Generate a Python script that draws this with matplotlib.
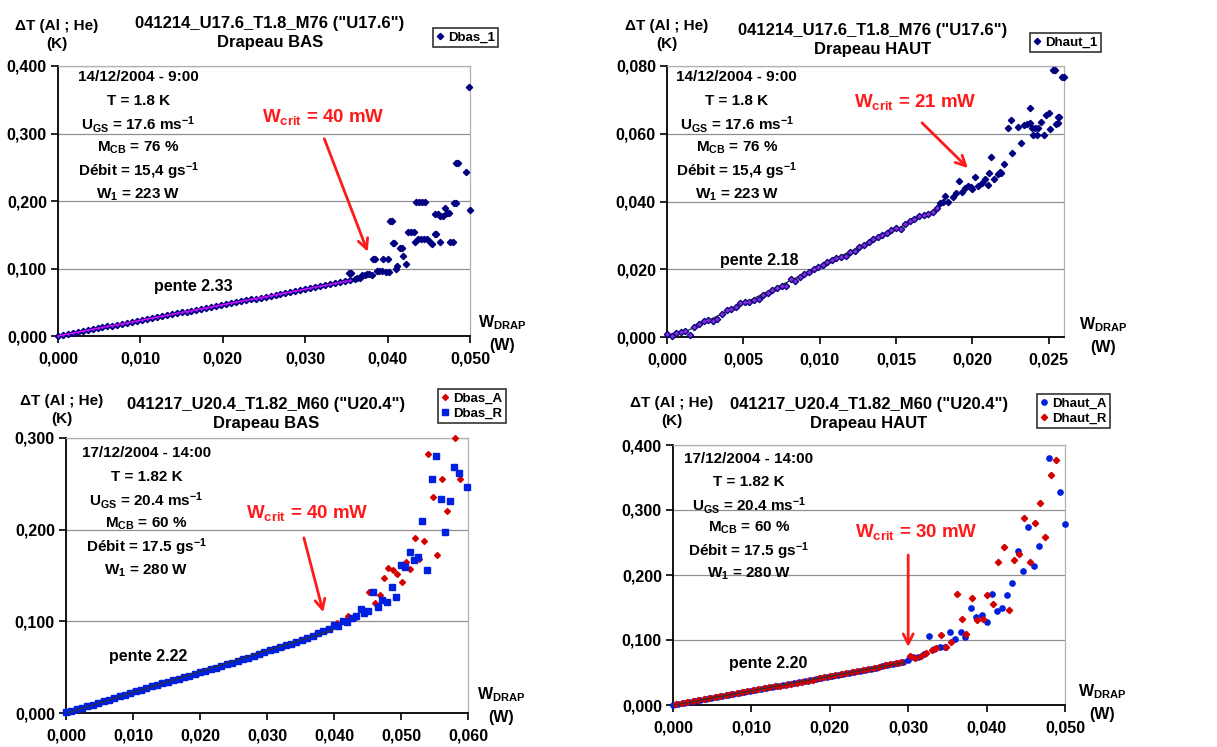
import numpy as np
import matplotlib
matplotlib.use("Agg")
import matplotlib.pyplot as plt
from matplotlib.ticker import FuncFormatter, MultipleLocator

plt.rcParams['font.family'] = ['Liberation Sans', 'DejaVu Sans']
plt.rcParams['font.weight'] = 'bold'
plt.rcParams['mathtext.fontset'] = 'custom'
plt.rcParams['mathtext.rm'] = 'Liberation Sans:bold'
plt.rcParams['mathtext.bf'] = 'Liberation Sans:bold'
plt.rcParams['mathtext.it'] = 'Liberation Sans:bold'

W, H = 1217, 747

# ---- 041214 Drapeau BAS (Dbas_1) ----
dbas1_lin_x = [0.0000, 0.0006, 0.0012, 0.0018, 0.0024, 0.0030, 0.0036, 0.0042, 0.0048, 0.0054,
               0.0060, 0.0066, 0.0072, 0.0078, 0.0084, 0.0090, 0.0096, 0.0102, 0.0108, 0.0114,
               0.0120, 0.0126, 0.0132, 0.0138, 0.0144, 0.0150, 0.0156, 0.0162, 0.0168, 0.0174,
               0.0180, 0.0186, 0.0192, 0.0198, 0.0204, 0.0210, 0.0216, 0.0222, 0.0228, 0.0234,
               0.0240, 0.0246, 0.0252, 0.0258, 0.0264, 0.0270, 0.0276, 0.0282, 0.0288, 0.0294,
               0.0300, 0.0306, 0.0312, 0.0318, 0.0324, 0.0330, 0.0336, 0.0342, 0.0348, 0.0354]
dbas1_lin_y = [0.0000, 0.0014, 0.0030, 0.0044, 0.0058, 0.0072, 0.0085, 0.0100, 0.0113, 0.0128,
               0.0141, 0.0155, 0.0169, 0.0183, 0.0197, 0.0211, 0.0225, 0.0239, 0.0252, 0.0266,
               0.0280, 0.0293, 0.0307, 0.0322, 0.0335, 0.0349, 0.0362, 0.0376, 0.0390, 0.0403,
               0.0418, 0.0431, 0.0445, 0.0459, 0.0472, 0.0486, 0.0500, 0.0513, 0.0527, 0.0542,
               0.0555, 0.0569, 0.0583, 0.0597, 0.0610, 0.0625, 0.0638, 0.0652, 0.0666, 0.0679,
               0.0694, 0.0707, 0.0722, 0.0736, 0.0750, 0.0764, 0.0779, 0.0793, 0.0808, 0.0823]
dbas1_x = [0.0353, 0.0356, 0.0360, 0.0363, 0.0366, 0.0369, 0.0372, 0.0375, 0.0378, 0.0381,
           0.0382, 0.0385, 0.0387, 0.0390, 0.0393, 0.0395, 0.0398, 0.0400, 0.0402, 0.0403,
           0.0405, 0.0406, 0.0408, 0.0410, 0.0412, 0.0415, 0.0417, 0.0419, 0.0422, 0.0425,
           0.0428, 0.0432, 0.0433, 0.0435, 0.0437, 0.0438, 0.0441, 0.0442, 0.0444, 0.0445,
           0.0448, 0.0451, 0.0454, 0.0457, 0.0459, 0.0458, 0.0461, 0.0464, 0.0467, 0.0464,
           0.0470, 0.0472, 0.0475, 0.0476, 0.0479, 0.0480, 0.0483, 0.0483, 0.0486, 0.0495,
           0.0499, 0.0500]
dbas1_y = [0.0926, 0.0926, 0.0850, 0.0855, 0.0860, 0.0910, 0.0905, 0.0915, 0.0920, 0.0910,
           0.1140, 0.1140, 0.0960, 0.0965, 0.0960, 0.1140, 0.0955, 0.1140, 0.0950, 0.1710,
           0.1710, 0.1380, 0.1380, 0.0990, 0.1040, 0.1300, 0.1300, 0.1180, 0.1070, 0.1540,
           0.1540, 0.1540, 0.1390, 0.1990, 0.1440, 0.1990, 0.1440, 0.1990, 0.1440, 0.1990,
           0.1430, 0.1400, 0.1360, 0.1510, 0.1510, 0.1810, 0.1810, 0.1780, 0.1780, 0.1400,
           0.1900, 0.1820, 0.1820, 0.1390, 0.1390, 0.1970, 0.1970, 0.2570, 0.2570, 0.2430,
           0.3690, 0.1870]

# ---- 041214 Drapeau HAUT (Dhaut_1) ----
dhaut1_lin_x = [0.0000, 0.0003, 0.0006, 0.0009, 0.0012, 0.0015, 0.0018, 0.0021, 0.0024, 0.0027,
                0.0030, 0.0033, 0.0036, 0.0039, 0.0042, 0.0045, 0.0048, 0.0051, 0.0054, 0.0057,
                0.0060, 0.0063, 0.0066, 0.0069, 0.0072, 0.0075, 0.0078, 0.0081, 0.0084, 0.0087,
                0.0090, 0.0093, 0.0096, 0.0099, 0.0102, 0.0105, 0.0108, 0.0111, 0.0114, 0.0117,
                0.0120, 0.0123, 0.0126, 0.0129, 0.0132, 0.0135, 0.0138, 0.0141, 0.0144, 0.0147,
                0.0150, 0.0153, 0.0156, 0.0159, 0.0162, 0.0165, 0.0168, 0.0171, 0.0174, 0.0177]
dhaut1_lin_y = [0.0008, 0.0002, 0.0012, 0.0015, 0.0018, 0.0006, 0.0030, 0.0037, 0.0048, 0.0050,
                0.0046, 0.0052, 0.0068, 0.0079, 0.0082, 0.0090, 0.0101, 0.0104, 0.0103, 0.0108,
                0.0112, 0.0124, 0.0130, 0.0138, 0.0145, 0.0152, 0.0150, 0.0170, 0.0165, 0.0178,
                0.0186, 0.0193, 0.0202, 0.0208, 0.0212, 0.0220, 0.0228, 0.0233, 0.0236, 0.0240,
                0.0252, 0.0255, 0.0266, 0.0272, 0.0280, 0.0289, 0.0294, 0.0302, 0.0308, 0.0315,
                0.0322, 0.0318, 0.0335, 0.0343, 0.0349, 0.0356, 0.0360, 0.0362, 0.0368, 0.0380]
dhaut1_x = [0.0179, 0.0181, 0.0182, 0.0184, 0.0187, 0.0189, 0.0191, 0.0193, 0.0195, 0.0197,
            0.0199, 0.0200, 0.0202, 0.0204, 0.0206, 0.0208, 0.0210, 0.0211, 0.0212, 0.0214,
            0.0217, 0.0218, 0.0219, 0.0221, 0.0223, 0.0225, 0.0226, 0.0230, 0.0232, 0.0234,
            0.0236, 0.0238, 0.0238, 0.0239, 0.0240, 0.0241, 0.0242, 0.0243, 0.0245, 0.0247,
            0.0248, 0.0250, 0.0251, 0.0253, 0.0254, 0.0256, 0.0257, 0.0255, 0.0256, 0.0259,
            0.0260]
dhaut1_y = [0.0396, 0.0398, 0.0416, 0.0400, 0.0414, 0.0426, 0.0460, 0.0428, 0.0440, 0.0446,
            0.0443, 0.0438, 0.0472, 0.0446, 0.0456, 0.0467, 0.0450, 0.0485, 0.0530, 0.0467,
            0.0480, 0.0487, 0.0485, 0.0510, 0.0616, 0.0640, 0.0543, 0.0619, 0.0572, 0.0626,
            0.0628, 0.0632, 0.0677, 0.0616, 0.0596, 0.0616, 0.0596, 0.0616, 0.0634, 0.0596,
            0.0655, 0.0662, 0.0614, 0.0787, 0.0787, 0.0650, 0.0650, 0.0630, 0.0632, 0.0767,
            0.0767]

# ---- 041217 Drapeau BAS (Dbas_A, Dbas_R) ----
dbasR_lin_x = [0.0000, 0.0008, 0.0016, 0.0024, 0.0032, 0.0040, 0.0048, 0.0056, 0.0064, 0.0072,
               0.0080, 0.0088, 0.0096, 0.0104, 0.0112, 0.0120, 0.0128, 0.0136, 0.0144, 0.0152,
               0.0160, 0.0168, 0.0176, 0.0184, 0.0192, 0.0200, 0.0208, 0.0216, 0.0224, 0.0232,
               0.0240, 0.0248, 0.0256, 0.0264, 0.0272, 0.0280, 0.0288, 0.0296, 0.0304, 0.0312,
               0.0320, 0.0328, 0.0336, 0.0344, 0.0352, 0.0360, 0.0368, 0.0376, 0.0384, 0.0392,
               0.0400]
dbasR_lin_y = [0.0015, 0.0022, 0.0040, 0.0058, 0.0075, 0.0092, 0.0110, 0.0128, 0.0145, 0.0165,
               0.0182, 0.0200, 0.0218, 0.0236, 0.0254, 0.0272, 0.0290, 0.0306, 0.0322, 0.0338,
               0.0355, 0.0372, 0.0390, 0.0408, 0.0425, 0.0443, 0.0460, 0.0478, 0.0496, 0.0514,
               0.0532, 0.0550, 0.0568, 0.0586, 0.0604, 0.0625, 0.0644, 0.0662, 0.0682, 0.0700,
               0.0718, 0.0738, 0.0758, 0.0778, 0.0798, 0.0820, 0.0845, 0.0868, 0.0893, 0.0920,
               0.0965]
dbasR_x = [0.0406, 0.0413, 0.0420, 0.0427, 0.0433, 0.0440, 0.0445, 0.0450, 0.0458, 0.0465,
           0.0472, 0.0479, 0.0486, 0.0493, 0.0500, 0.0506, 0.0513, 0.0519, 0.0526, 0.0532,
           0.0539, 0.0546, 0.0552, 0.0559, 0.0566, 0.0573, 0.0579, 0.0586, 0.0599]
dbasR_y = [0.0950, 0.1000, 0.0990, 0.1040, 0.1060, 0.1130, 0.1095, 0.1110, 0.1320, 0.1160,
           0.1235, 0.1210, 0.1380, 0.1270, 0.1610, 0.1590, 0.1760, 0.1670, 0.1700, 0.2090,
           0.1560, 0.2550, 0.2800, 0.2330, 0.1980, 0.2310, 0.2680, 0.2620, 0.2470]
dbasA_lin_x = [0.0004, 0.0020, 0.0036, 0.0052, 0.0068, 0.0084, 0.0100, 0.0116, 0.0132, 0.0148,
               0.0164, 0.0180, 0.0196, 0.0212, 0.0228, 0.0244, 0.0260, 0.0276, 0.0292, 0.0308,
               0.0324, 0.0340, 0.0356, 0.0372, 0.0388, 0.0404]
dbasA_lin_y = [0.0010, 0.0045, 0.0080, 0.0116, 0.0152, 0.0188, 0.0224, 0.0260, 0.0296, 0.0326,
               0.0360, 0.0396, 0.0430, 0.0466, 0.0502, 0.0538, 0.0574, 0.0612, 0.0655, 0.0690,
               0.0725, 0.0764, 0.0810, 0.0855, 0.0905, 0.0985]
dbasA_x = [0.0421, 0.0433, 0.0452, 0.0461, 0.0468, 0.0475, 0.0481, 0.0488, 0.0494, 0.0501,
           0.0508, 0.0514, 0.0521, 0.0527, 0.0534, 0.0541, 0.0548, 0.0554, 0.0561, 0.0568,
           0.0581, 0.0588]
dbasA_y = [0.1060, 0.1050, 0.1320, 0.1200, 0.1290, 0.1470, 0.1580, 0.1560, 0.1520, 0.1430,
           0.1650, 0.1570, 0.1910, 0.1680, 0.1880, 0.2830, 0.2360, 0.1720, 0.2550, 0.2200,
           0.3000, 0.2550]

# ---- 041217 Drapeau HAUT (Dhaut_A, Dhaut_R) ----
dhautA_lin_x = [0.0000, 0.0007, 0.0014, 0.0021, 0.0028, 0.0035, 0.0042, 0.0049, 0.0056, 0.0063,
                0.0070, 0.0077, 0.0084, 0.0091, 0.0098, 0.0105, 0.0112, 0.0119, 0.0126, 0.0133,
                0.0140, 0.0147, 0.0154, 0.0161, 0.0168, 0.0175, 0.0182, 0.0189, 0.0196, 0.0203,
                0.0210, 0.0217, 0.0224, 0.0231, 0.0238, 0.0245, 0.0252, 0.0259, 0.0266, 0.0273,
                0.0280, 0.0287, 0.0294]
dhautA_lin_y = [0.0005, 0.0015, 0.0030, 0.0045, 0.0062, 0.0076, 0.0092, 0.0106, 0.0122, 0.0137,
                0.0152, 0.0168, 0.0184, 0.0199, 0.0214, 0.0230, 0.0244, 0.0260, 0.0274, 0.0290,
                0.0304, 0.0318, 0.0334, 0.0349, 0.0364, 0.0380, 0.0396, 0.0412, 0.0428, 0.0445,
                0.0460, 0.0478, 0.0490, 0.0508, 0.0525, 0.0540, 0.0560, 0.0575, 0.0595, 0.0612,
                0.0630, 0.0648, 0.0668]
dhautA_x = [0.0300, 0.0306, 0.0313, 0.0320, 0.0327, 0.0333, 0.0340, 0.0347, 0.0353, 0.0360,
            0.0367, 0.0373, 0.0380, 0.0387, 0.0394, 0.0400, 0.0407, 0.0413, 0.0420, 0.0426,
            0.0433, 0.0440, 0.0447, 0.0453, 0.0460, 0.0467, 0.0480, 0.0494, 0.0500]
dhautA_y = [0.0685, 0.0746, 0.0736, 0.0780, 0.1060, 0.0860, 0.0890, 0.0890, 0.1130, 0.1015,
            0.1120, 0.1050, 0.1500, 0.1355, 0.1390, 0.1280, 0.1710, 0.1447, 0.1500, 0.1700,
            0.1870, 0.2376, 0.2056, 0.2746, 0.2137, 0.2440, 0.3797, 0.3284, 0.2790]
dhautR_lin_x = [0.0004, 0.0011, 0.0018, 0.0025, 0.0032, 0.0039, 0.0046, 0.0053, 0.0060, 0.0067,
                0.0074, 0.0081, 0.0088, 0.0095, 0.0102, 0.0109, 0.0116, 0.0123, 0.0130, 0.0137,
                0.0144, 0.0151, 0.0158, 0.0165, 0.0172, 0.0179, 0.0186, 0.0193, 0.0200, 0.0207,
                0.0214, 0.0221, 0.0228, 0.0235, 0.0242, 0.0249, 0.0256, 0.0263, 0.0270, 0.0277,
                0.0284, 0.0291]
dhautR_lin_y = [0.0018, 0.0025, 0.0042, 0.0058, 0.0072, 0.0088, 0.0104, 0.0118, 0.0134, 0.0148,
                0.0164, 0.0180, 0.0196, 0.0210, 0.0226, 0.0240, 0.0256, 0.0270, 0.0286, 0.0300,
                0.0314, 0.0330, 0.0345, 0.0360, 0.0376, 0.0392, 0.0408, 0.0424, 0.0440, 0.0456,
                0.0474, 0.0488, 0.0504, 0.0520, 0.0536, 0.0558, 0.0574, 0.0592, 0.0610, 0.0628,
                0.0645, 0.0662]
dhautR_x = [0.0302, 0.0309, 0.0316, 0.0323, 0.0330, 0.0336, 0.0342, 0.0348, 0.0355, 0.0362,
            0.0368, 0.0374, 0.0381, 0.0388, 0.0395, 0.0401, 0.0408, 0.0415, 0.0422, 0.0428,
            0.0435, 0.0441, 0.0448, 0.0455, 0.0462, 0.0468, 0.0475, 0.0482, 0.0488]
dhautR_y = [0.0760, 0.0720, 0.0750, 0.0800, 0.0840, 0.0880, 0.1076, 0.0890, 0.0964, 0.1710,
            0.1330, 0.1090, 0.1640, 0.1305, 0.1320, 0.1690, 0.1560, 0.2200, 0.2437, 0.1460,
            0.2234, 0.2320, 0.2880, 0.2198, 0.2807, 0.3107, 0.2590, 0.3540, 0.3770]

titles = ['041214_U17.6_T1.8_M76 ("U17.6")\nDrapeau BAS',
          '041214_U17.6_T1.8_M76 ("U17.6")\nDrapeau HAUT',
          '041217_U20.4_T1.82_M60 ("U20.4")\nDrapeau BAS',
          '041217_U20.4_T1.82_M60 ("U20.4")\nDrapeau HAUT']
info_1214 = ['14/12/2004 - 9:00', 'T = 1.8 K',
             r'U$_{\mathbf{GS}}$ = 17.6 ms$^{\mathbf{-1}}$', r'M$_{\mathbf{CB}}$ = 76 %',
             r'Débit = 15,4 gs$^{\mathbf{-1}}$', r'W$_{\mathbf{1}}$ = 223 W']
info_1217 = ['17/12/2004 - 14:00', 'T = 1.82 K',
             r'U$_{\mathbf{GS}}$ = 20.4 ms$^{\mathbf{-1}}$', r'M$_{\mathbf{CB}}$ = 60 %',
             r'Débit = 17.5 gs$^{\mathbf{-1}}$', r'W$_{\mathbf{1}}$ = 280 W']

NAVY = '#000080'
RED = '#D40000'
BLUE = '#0020E0'

fig = plt.figure(figsize=(W / 100, H / 100), dpi=100)


def px_axes(l, t, r, b):
    return fig.add_axes([l / W, 1 - b / H, (r - l) / W, (b - t) / H])


def ftext(x, y, s, **kw):
    kw.setdefault('ha', 'center')
    kw.setdefault('va', 'center')
    kw.setdefault('fontweight', 'bold')
    fig.text(x / W, 1 - y / H, s, **kw)


comma = FuncFormatter(lambda v, p: f'{v:.3f}'.replace('.', ','))


def style(ax, xmax, xstep, ymax, ystep):
    ax.set_xlim(0, xmax)
    ax.set_ylim(0, ymax)
    ax.xaxis.set_major_locator(MultipleLocator(xstep))
    ax.yaxis.set_major_locator(MultipleLocator(ystep))
    ax.xaxis.set_major_formatter(comma)
    ax.yaxis.set_major_formatter(comma)
    ax.grid(axis='y', color='#909090', lw=0.9)
    ax.set_axisbelow(True)
    for s in ['left', 'bottom']:
        ax.spines[s].set_color('black')
        ax.spines[s].set_linewidth(1.3)
    for s in ['top', 'right']:
        ax.spines[s].set_color('#B0B0B0')
        ax.spines[s].set_linewidth(0.9)
    ax.tick_params(direction='out', length=5, width=1.2, labelsize=11.5, pad=3)
    for lab in ax.get_xticklabels() + ax.get_yticklabels():
        lab.set_fontweight('bold')
    ax.tick_params(axis='x', pad=6)


def info(ax, lines, xc, ytop, step):
    for i, s in enumerate(lines):
        ax.text(xc, ytop - i * step, s, transform=ax.transAxes, ha='center', va='center',
                fontsize=11, fontweight='bold')


def trend(ax, xs, ys, color):
    # linear fit of the low-power part ("pente")
    k, b = np.polyfit(xs, ys, 1)
    xx = np.array([min(xs), max(xs)])
    ax.plot(xx, k * xx + b, color=color, lw=0.9, zorder=4)


def crit(ax, label, tx, ty, sx, sy, ex, ey):
    ax.text(tx, ty, label, color='#FF1A1A', fontsize=13.5, fontweight='bold',
            ha='center', va='center')
    ax.annotate('', xy=(ex, ey), xytext=(sx, sy),
                arrowprops=dict(arrowstyle='->', color='#FF1A1A', lw=2,
                                mutation_scale=18))


def legend(ax, x, y):
    lg = ax.legend(loc='upper left', bbox_to_anchor=(x / W, 1 - y / H),
                   bbox_transform=fig.transFigure, frameon=True, fancybox=False,
                   fontsize=9.5, handlelength=0.6, handletextpad=0.3,
                   borderpad=0.25, labelspacing=0.25, borderaxespad=0)
    lg.get_frame().set_edgecolor('black')
    lg.get_frame().set_linewidth(1.2)
    for t in lg.get_texts():
        t.set_fontweight('bold')


def pente(ax, x, y, s):
    ax.text(x, y, s, fontsize=11.5, fontweight='bold', ha='center', va='center')


YLAB = 'ΔT (Al ; He)\n(K)'
XLAB = r'W$_{\mathbf{DRAP}}$' + '\n(W)'

# ---------- top left ----------
ax = px_axes(58, 66, 470, 336)
style(ax, 0.05, 0.01, 0.4, 0.1)
ax.plot(dbas1_lin_x + dbas1_x, dbas1_lin_y + dbas1_y, 'D', color=NAVY, ms=3.2,
        mec=NAVY, label='Dbas_1', clip_on=False, zorder=3)
ax.plot(dbas1_lin_x, dbas1_lin_y, 'D', color='#A020F0', ms=1.8, mew=0, zorder=5, clip_on=False)
trend(ax, dbas1_lin_x, dbas1_lin_y, '#FF00FF')
info(ax, info_1214, 0.195, 0.959, 0.087)
crit(ax, r'W$_{\mathbf{crit}}$ = 40 mW', 0.0322, 0.324, 0.0322, 0.296, 0.0377, 0.121)
pente(ax, 0.0164, 0.0726, 'pente 2.33')
legend(ax, 433, 28)
ftext(270, 33, titles[0], fontsize=12, linespacing=1.35)
ftext(57, 35, YLAB, fontsize=11, linespacing=1.35)
ftext(502, 333, XLAB, fontsize=11.5, linespacing=1.45)

# ---------- top right ----------
ax = px_axes(667, 66, 1064, 337)
style(ax, 0.026, 0.005, 0.08, 0.02)
ax.plot(dhaut1_lin_x + dhaut1_x, dhaut1_lin_y + dhaut1_y, 'D', color=NAVY, ms=3.2,
        mec=NAVY, label='Dhaut_1', clip_on=False, zorder=3)
ax.plot(dhaut1_lin_x, dhaut1_lin_y, 'D', color='#8A2BE2', ms=2.4, mew=0, zorder=5, clip_on=False)
trend(ax, dhaut1_lin_x, dhaut1_lin_y, '#202040')
info(ax, info_1214, 0.176, 0.959, 0.087)
crit(ax, r'W$_{\mathbf{crit}}$ = 21 mW', 0.01624, 0.0694, 0.01657, 0.0638, 0.01984, 0.0493)
pente(ax, 0.00603, 0.0227, 'pente 2.18')
legend(ax, 1030, 33)
ftext(873, 40, titles[1], fontsize=12, linespacing=1.35)
ftext(667, 35, YLAB, fontsize=11, linespacing=1.35)
ftext(1103, 335, XLAB, fontsize=11.5, linespacing=1.45)

# ---------- bottom left ----------
ax = px_axes(66, 438, 468, 713)
style(ax, 0.06, 0.01, 0.3, 0.1)
ax.plot(dbasA_lin_x + dbasA_x, dbasA_lin_y + dbasA_y, 'D', color=RED, ms=3.0,
        label='Dbas_A', clip_on=False, zorder=3)
ax.plot(dbasR_lin_x + dbasR_x, dbasR_lin_y + dbasR_y, 's', color=BLUE, ms=4.2,
        label='Dbas_R', clip_on=False, zorder=3)
trend(ax, dbasR_lin_x, dbasR_lin_y, '#303030')
info(ax, info_1217, 0.2, 0.945, 0.0855)
crit(ax, r'W$_{\mathbf{crit}}$ = 40 mW', 0.036, 0.218, 0.0354, 0.194, 0.0385, 0.107)
pente(ax, 0.0122, 0.062, 'pente 2.22')
legend(ax, 438, 389)
ftext(266, 414, titles[2], fontsize=12, linespacing=1.35)
ftext(62, 410, YLAB, fontsize=11, linespacing=1.35)
ftext(501, 705, XLAB, fontsize=11.5, linespacing=1.45)

# ---------- bottom right ----------
ax = px_axes(673, 445, 1065, 705)
style(ax, 0.05, 0.01, 0.4, 0.1)
ax.plot(dhautA_lin_x + dhautA_x, dhautA_lin_y + dhautA_y, 'o', color=BLUE, ms=3.8,
        label='Dhaut_A', clip_on=False, zorder=3)
ax.plot(dhautR_lin_x + dhautR_x, dhautR_lin_y + dhautR_y, 'D', color=RED, ms=3.2,
        label='Dhaut_R', clip_on=False, zorder=3)
trend(ax, dhautA_lin_x, dhautA_lin_y, '#303030')
info(ax, info_1217, 0.194, 0.946, 0.0885)
crit(ax, r'W$_{\mathbf{crit}}$ = 30 mW', 0.031, 0.266, 0.030, 0.235, 0.030, 0.085)
pente(ax, 0.0121, 0.0646, 'pente 2.20')
legend(ax, 1037, 394)
ftext(869, 414, titles[3], fontsize=12, linespacing=1.35)
ftext(672, 412, YLAB, fontsize=11, linespacing=1.35)
ftext(1102, 702, XLAB, fontsize=11.5, linespacing=1.45)

fig.savefig('out.png', dpi=100)
